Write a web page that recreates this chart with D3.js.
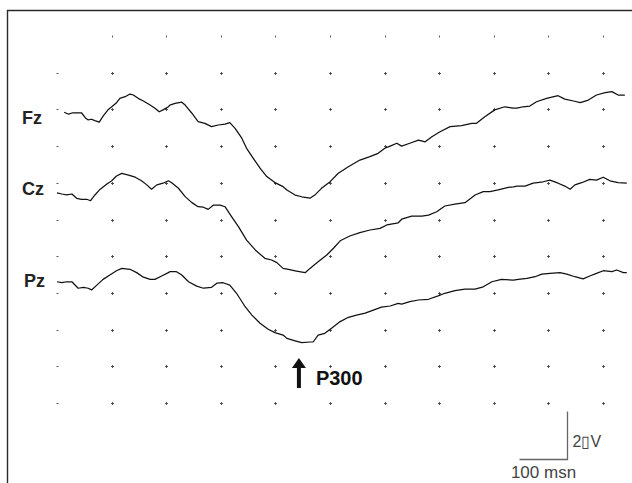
<!DOCTYPE html>
<meta charset="utf-8">
<script src="https://d3js.org/d3.v7.min.js"></script>
<style>
  body { margin: 0; background: #fff; }
  svg { display: block; font-family: "Liberation Sans", Arial, Helvetica, sans-serif; }
</style>
<body>
<div id="erp"></div>
<script>
// channels, drawn top to bottom
var channels = ["Fz", "Cz", "Pz"];

// time (ms) and amplitude (uV, negative up)
var fzTime = [15, 24, 33, 41, 51, 60, 65, 72, 79, 88, 96, 107, 114, 124, 131, 142, 152, 159, 169, 180,
  194, 204, 213, 221, 232, 235, 246, 260, 267, 281, 294, 308, 322, 336, 350, 360, 371, 385, 395, 409,
  423, 437, 454, 471, 479, 496, 510, 527, 537, 551, 569, 586, 607, 631, 652, 669, 683, 694, 708, 718,
  735, 753, 767, 781, 798, 819, 843, 864, 874, 892, 912, 933, 951, 958, 971, 985, 999, 1020, 1044, 1058,
  1076, 1090, 1107, 1124, 1142, 1156, 1169, 1183];
var fzAmp = [-0.03, 0.05, -0.01, -0.01, -0.01, 0.22, 0.29, 0.26, 0.32, 0.38, 0.13, -0.15, -0.26, -0.43, -0.61, -0.68, -0.79, -0.75, -0.61, -0.5,
  -0.33, -0.2, -0.05, -0.13, -0.26, -0.33, -0.4, -0.45, -0.33, 0.01, 0.36, 0.43, 0.57, 0.5, 0.46, 0.4, 0.64, 1.05, 1.47, 1.89,
  2.3, 2.65, 2.9, 3.07, 3.21, 3.42, 3.49, 3.55, 3.42, 3.14, 2.86, 2.51, 2.24, 1.96, 1.82, 1.68, 1.47, 1.38, 1.26, 1.38,
  1.26, 1.13, 1.2, 0.99, 0.78, 0.57, 0.53, 0.43, 0.43, 0.15, -0.13, -0.26, -0.2, -0.2, -0.26, -0.29, -0.47, -0.61, -0.72, -0.58,
  -0.5, -0.43, -0.54, -0.75, -0.85, -0.89, -0.75, -0.75];

var czTime = [0, 10, 20, 31, 41, 51, 62, 70, 79, 90, 104, 114, 124, 135, 149, 163, 176, 187, 197, 208,
  221, 232, 239, 253, 267, 281, 294, 305, 315, 326, 340, 350, 364, 378, 395, 413, 433, 447, 458, 471,
  482, 499, 517, 527, 544, 562, 576, 590, 610, 631, 652, 673, 687, 711, 718, 739, 760, 774, 791, 808,
  829, 850, 871, 888, 902, 919, 940, 951, 958, 975, 992, 1013, 1027, 1044, 1058, 1069, 1079, 1093, 1110, 1124,
  1138, 1152, 1169, 1187];
var czAmp = [-0.05, 0, 0.04, 0, 0.18, 0.22, 0.22, 0.28, 0.04, -0.2, -0.42, -0.55, -0.75, -0.86, -0.79, -0.7, -0.55, -0.38, -0.2, -0.38,
  -0.45, -0.55, -0.47, -0.24, 0.11, 0.36, 0.53, 0.55, 0.64, 0.46, 0.46, 0.53, 0.95, 1.36, 1.92, 2.33, 2.68, 2.75, 2.86, 3.1,
  3.14, 3.21, 3.28, 3.1, 2.82, 2.54, 2.26, 1.95, 1.75, 1.61, 1.5, 1.43, 1.29, 1.2, 1.05, 0.92, 0.92, 0.88, 0.74, 0.5,
  0.42, 0.36, 0.04, -0.1, -0.1, -0.17, -0.28, -0.3, -0.33, -0.33, -0.45, -0.51, -0.58, -0.45, -0.33, -0.2, -0.38, -0.47, -0.61, -0.58,
  -0.7, -0.55, -0.47, -0.45];

var pzTime = [0, 10, 20, 31, 44, 55, 65, 72, 83, 96, 110, 124, 135, 152, 166, 180, 194, 204, 218, 232,
  235, 249, 260, 274, 291, 305, 322, 333, 346, 360, 374, 392, 406, 423, 440, 454, 471, 479, 496, 510,
  527, 534, 544, 558, 572, 590, 607, 624, 642, 659, 676, 694, 711, 718, 735, 753, 774, 794, 808, 829,
  850, 871, 888, 906, 926, 951, 961, 979, 996, 1010, 1027, 1048, 1062, 1079, 1096, 1110, 1124, 1138, 1156, 1166,
  1180, 1187];
var pzAmp = [-0.01, 0.03, -0.01, -0.01, 0.26, 0.22, 0.26, 0.33, 0.13, -0.11, -0.29, -0.47, -0.57, -0.53, -0.39, -0.2, -0.11, -0.11, -0.25, -0.39,
  -0.43, -0.43, -0.29, -0.01, 0.17, 0.26, 0.22, 0.05, 0.03, 0.13, 0.47, 1.03, 1.38, 1.72, 1.97, 2.11, 2.21, 2.35, 2.45, 2.53,
  2.5, 2.49, 2.21, 2.14, 1.93, 1.65, 1.47, 1.38, 1.3, 1.17, 1.05, 1.0, 0.89, 0.92, 0.82, 0.75, 0.72, 0.58, 0.47, 0.36,
  0.3, 0.3, 0.2, -0.01, -0.11, -0.08, -0.11, -0.15, -0.22, -0.33, -0.36, -0.39, -0.33, -0.22, -0.13, -0.25, -0.36, -0.47, -0.43, -0.5,
  -0.39, -0.39];

var traces = {Fz: [fzTime, fzAmp], Cz: [czTime, czAmp], Pz: [pzTime, pzAmp]};

// annotation + calibration
var p300Latency = 504;
var calTime = 100, calAmp = 2;

// dot grid: 11 x 11, first row has no dot in column 0
var gridCols = d3.range(11), gridRows = d3.range(11);

var width = 632, height = 483;

var svg = d3.select("#erp")
  .append("svg")
    .attr("width", width)
    .attr("height", height);

// frame: only top and left edges show
svg.append("path")
  .attr("d", "M7.5," + height + "V10.5H" + width)
  .attr("fill", "none")
  .attr("stroke", "#2a2a2a")
  .attr("stroke-width", 1.4);

var x = d3.scaleLinear().domain([0, 1000]).range([57, 537]);

// channel zero lines (layout)
var base = {Fz: 113, Cz: 194, Pz: 282};
var labelY = {Fz: 124, Cz: 195, Pz: 287};
var labelX = {Fz: 22, Cz: 22, Pz: 24};

function yFor(ch) {
  // negative up, 24 px per uV
  return d3.scaleLinear().domain([-4, 4]).range([base[ch] - 96, base[ch] + 96]);
}

// grid dots
var gx = d3.scaleLinear().domain([0, 10]).range([57, 603]);
var gy = d3.scaleLinear().domain([0, 10]).range([36, 403]);
var cells = [];
gridRows.forEach(function(r) {
  gridCols.forEach(function(c) {
    if (r === 0 && c === 0) return;
    cells.push({r: r, c: c});
  });
});
svg.append("g")
  .selectAll("path")
  .data(cells)
  .enter()
  .append("path")
    .attr("d", function(d) {
      var cx = Math.round(gx(d.c)) + 0.5, cy = Math.round(gy(d.r)) + 0.5;
      if (d.c === 0) return "M" + (cx - 1) + "," + cy + "h2";
      if (d.r === 0) return "M" + cx + "," + (cy - 1) + "v2";
      return "M" + (cx - 1.5) + "," + cy + "h3M" + cx + "," + (cy - 1.5) + "v3";
    })
    .attr("stroke", "#444")
    .attr("stroke-width", 0.9)
    .attr("fill", "none");

// traces
channels.forEach(function(ch) {
  var y = yFor(ch);
  var pts = traces[ch][0].map(function(t, i) { return [t, traces[ch][1][i]]; });
  svg.append("path")
    .datum(pts)
    .attr("fill", "none")
    .attr("stroke", "#111")
    .attr("stroke-width", 1.25)
    .attr("stroke-linejoin", "round")
    .attr("d", d3.line()
      .x(function(d) { return x(d[0]); })
      .y(function(d) { return y(d[1]); }));

  svg.append("text")
    .attr("x", labelX[ch])
    .attr("y", labelY[ch])
    .attr("font-size", 18)
    .attr("font-weight", "bold")
    .attr("fill", "#222")
    .text(ch);
});

// P300 arrow
var ax = x(p300Latency);
svg.append("path")
  .attr("d", "M" + ax + ",358L" + (ax + 7) + ",368H" + (ax + 2) + "V388H" + (ax - 2) + "V368H" + (ax - 7) + "Z")
  .attr("fill", "#111");
svg.append("text")
  .attr("x", ax + 17)
  .attr("y", 384.5)
  .attr("font-size", 20)
  .attr("font-weight", "bold")
  .attr("fill", "#111")
  .attr("stroke", "#fff")
  .attr("stroke-width", 3)
  .attr("paint-order", "stroke")
  .text("P300");

// calibration bar
var calX = 567.5, calY = 459.5;
var calLen = x(calTime) - x(0);
var calH = yFor("Pz")(calAmp) - yFor("Pz")(0);
svg.append("path")
  .attr("d", "M" + (calX - calLen) + "," + calY + "H" + calX + "V" + (calY - calH))
  .attr("fill", "none")
  .attr("stroke", "#666")
  .attr("stroke-width", 1.3);
svg.append("text")
  .attr("x", calX + 5)
  .attr("y", 447)
  .attr("font-size", 16)
  .attr("fill", "#444")
  .text("2\u25AFV");
svg.append("text")
  .attr("x", calX - calLen / 2)
  .attr("y", 478)
  .attr("text-anchor", "middle")
  .attr("font-size", 17)
  .attr("fill", "#444")
  .text("100 msn");
</script>
</body>
